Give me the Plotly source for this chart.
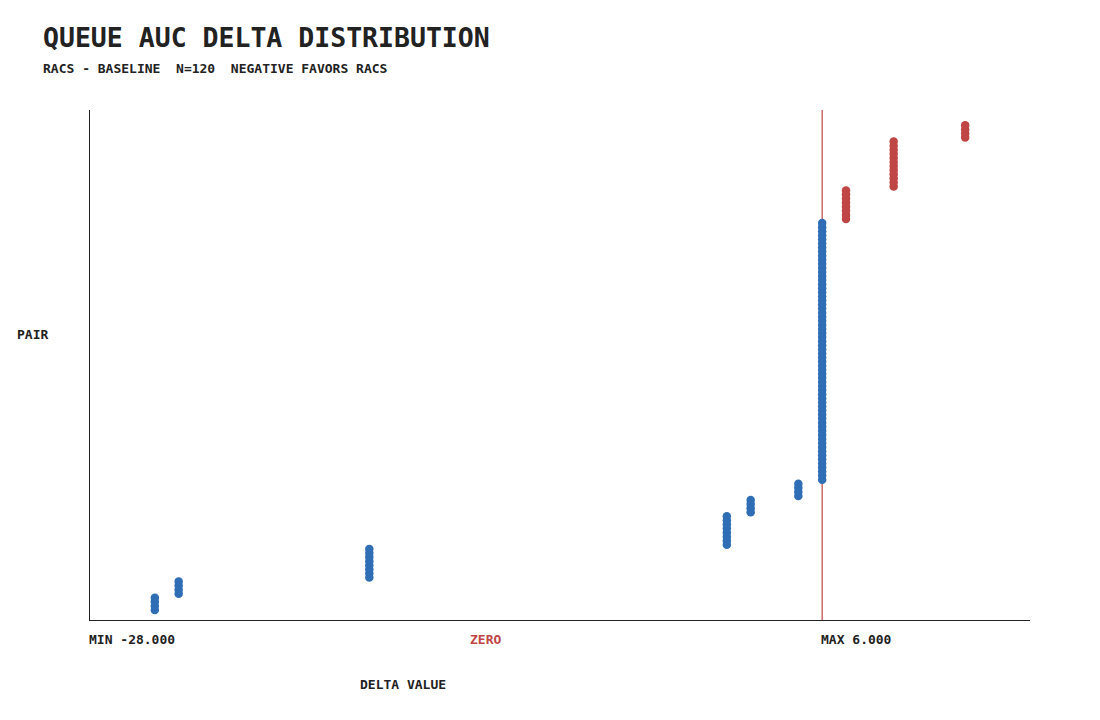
import numpy as np
import plotly.graph_objects as go

# distinct delta values (racs - baseline) and how many pairs sit on each
DELTA_LEVELS = [-28, -27, -19, -4, -3, -1, 0, 1, 3, 6]
PAIR_COUNTS = [4, 4, 8, 8, 4, 4, 64, 8, 12, 4]

TITLE = "QUEUE AUC DELTA DISTRIBUTION"
SUBTITLE = "RACS - BASELINE  N=120  NEGATIVE FAVORS RACS"
X_TICK_TEXT = ["MIN -28.000", "ZERO", "MAX 6.000"]
X_TITLE = "DELTA VALUE"
Y_TITLE = "PAIR"

BLUE = "#2f6eb5"
RED = "#c04545"
INK = "#222222"
FONT = "DejaVu Sans Mono"

deltas = np.repeat(DELTA_LEVELS, PAIR_COUNTS)
deltas = np.sort(deltas)
ranks = np.arange(len(deltas))
colors = [RED if d > 0 else BLUE for d in deltas]

fig = go.Figure()

# zero reference line
fig.add_shape(
    type="line", xref="x", yref="paper",
    x0=0, x1=0, y0=0, y1=1,
    line=dict(color=RED, width=1.2),
    layer="below",
)

fig.add_trace(go.Scatter(
    x=deltas, y=ranks,
    mode="markers",
    marker=dict(size=8.5, color=colors, line=dict(width=0)),
    showlegend=False,
    hoverinfo="x+y",
))

# tick labels are placed at fixed spots along the axis, not at their values
tick_pos = [-0.003, 0.402, 0.775]
tick_colors = [INK, RED, INK]
annotations = []
for txt, px, col in zip(X_TICK_TEXT, tick_pos, tick_colors):
    annotations.append(dict(
        text=txt, xref="paper", yref="paper", x=px, y=-0.039,
        xanchor="left", yanchor="middle", showarrow=False,
        font=dict(family=FONT, size=13, color=col, weight="bold"),
    ))

annotations += [
    dict(text=X_TITLE, xref="paper", yref="paper", x=0.285, y=-0.127,
         xanchor="left", yanchor="middle", showarrow=False,
         font=dict(family=FONT, size=13, color=INK, weight="bold")),
    dict(text=Y_TITLE, xref="paper", yref="paper", x=-0.08, y=0.56,
         xanchor="left", yanchor="middle", showarrow=False,
         font=dict(family=FONT, size=13, color=INK, weight="bold")),
    dict(text=SUBTITLE, xref="paper", yref="paper", x=-0.052, y=1.082,
         xanchor="left", yanchor="middle", showarrow=False,
         font=dict(family=FONT, size=13, color=INK, weight="bold")),
]

fig.update_layout(
    width=1100, height=720,
    margin=dict(l=82, r=78, t=102, b=108),
    paper_bgcolor="white",
    plot_bgcolor="white",
    title=dict(
        text=TITLE, x=35 / 1100, xanchor="left",
        y=1 - 30 / 720, yanchor="middle",
        font=dict(family=FONT, size=26.5, color=INK, weight="bold"),
    ),
    xaxis=dict(
        range=[-30.72, 8.72], showgrid=False, zeroline=False,
        showticklabels=False, ticks="",
        showline=True, linecolor=INK, linewidth=1,
    ),
    yaxis=dict(
        range=[-2.45, 122.76], showgrid=False, zeroline=False,
        showticklabels=False, ticks="",
        showline=True, linecolor=INK, linewidth=1,
    ),
    annotations=annotations,
)

fig.write_html("out.html")
